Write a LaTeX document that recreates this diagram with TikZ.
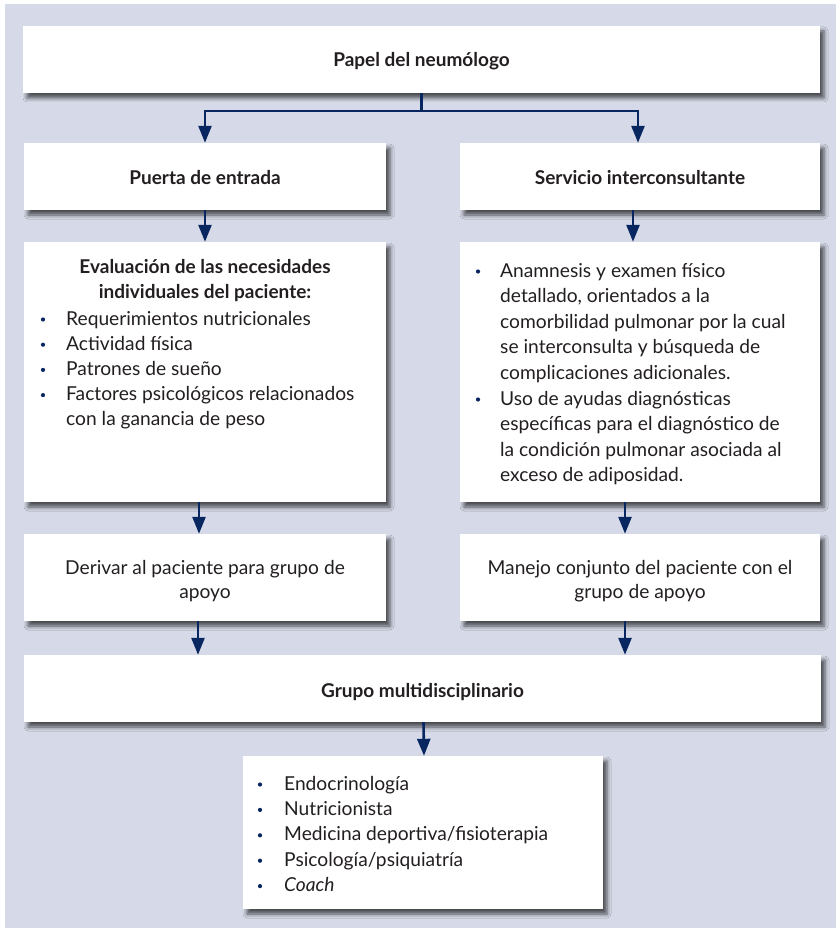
\documentclass[tikz,border=0pt]{standalone}
\usepackage{fontspec}
\setmainfont{Lato}
\usetikzlibrary{shadows.blur,arrows.meta}
\definecolor{bgpanel}{RGB}{214,218,232}
\definecolor{navy}{RGB}{8,38,96}
\definecolor{ink}{RGB}{35,31,32}
\begin{document}
\begin{tikzpicture}[x=1pt,y=-1pt,
  panel/.style={fill=white, draw=none, inner sep=0pt,
    blur shadow={shadow xshift=4pt, shadow yshift=-5pt,
      shadow blur radius=4pt, shadow opacity=65}},
  flow/.style={draw=navy, line width=2.6pt,
    -{Triangle[length=17pt,width=13pt]}},
  body/.style={font=\fontsize{19.2}{25}\selectfont, text=ink, inner sep=0pt},
  head/.style={body, font=\fontsize{19}{25}\selectfont\bfseries},
  dot/.style={fill=navy},
]
% page background with its light outer edge
\path[use as bounding box, fill=white] (0,0) rectangle (836,928);
\fill[bgpanel] (5,4) rectangle (836,928);

% boxes
\node[panel, minimum width=797pt, minimum height=67pt] (top) at (421.5,59.5) {};
\node[panel, minimum width=362pt, minimum height=67pt] (puerta) at (205,176.5) {};
\node[panel, minimum width=360pt, minimum height=67pt] (servicio) at (640,176.5) {};
\node[panel, minimum width=362pt, minimum height=260pt] (eval) at (205,372) {};
\node[panel, minimum width=360pt, minimum height=260pt] (detalle) at (640,372) {};
\node[panel, minimum width=362pt, minimum height=87pt] (derivar) at (205,577.5) {};
\node[panel, minimum width=360pt, minimum height=87pt] (manejo) at (640,577.5) {};
\node[panel, minimum width=797pt, minimum height=67pt] (grupo) at (422.5,688.5) {};
\node[panel, minimum width=360pt, minimum height=153pt] (equipo) at (423,832.5) {};

% titles
\node[head, anchor=base] (ttop) at (421.5,67) {Papel del neumólogo};
\node[head, anchor=base] (tpuerta) at (205,184) {Puerta de entrada};
\node[head, anchor=base] (tservicio) at (640,184) {Servicio interconsultante};
\node[head, anchor=base] (tgrupo) at (422.5,697) {Grupo multidisciplinario};
\node[head, anchor=base] (teval1) at (205,273) {Evaluación de las necesidades};
\node[head, anchor=base] (teval2) at (205,298) {individuales del paciente:};

% left list
\foreach \t [count=\i] in {Requerimientos nutricionales, Actividad física,
    Patrones de sueño, Factores psicológicos relacionados,
    con la ganancia de peso}
  \node[body, anchor=base west] (ev\i) at (66,{325+25.2*(\i-1)}) {\t};
\foreach \i in {1,...,4}
  \fill[dot] (43,{319.5+25.2*(\i-1)}) circle (2.1pt);

% right list
\foreach \t [count=\i] in {Anamnesis y examen físico,
    {detallado, orientados a la},
    comorbilidad pulmonar por la cual,
    se interconsulta y búsqueda de,
    complicaciones adicionales.,
    Uso de ayudas diagnósticas,
    específicas para el diagnóstico de,
    la condición pulmonar asociada al,
    exceso de adiposidad.}
  \node[body, anchor=base west] (de\i) at (500,{277+25.6*(\i-1)}) {\t};
\fill[dot] (478,271.5) circle (2.1pt);
\fill[dot] (478,{271.5+25.6*5}) circle (2.1pt);

% referral boxes
\node[body, anchor=base] (dv1) at (205,574) {Derivar al paciente para grupo de};
\node[body, anchor=base] (dv2) at (205,598) {apoyo};
\node[body, anchor=base] (mj1) at (640,574) {Manejo conjunto del paciente con el};
\node[body, anchor=base] (mj2) at (640,598) {grupo de apoyo};

% team list
\foreach \t [count=\i] in {Endocrinología, Nutricionista,
    Medicina deportiva/fisioterapia, Psicología/psiquiatría,
    \textit{Coach}}
  \node[body, anchor=base west] (eq\i) at (284,{790+25.4*(\i-1)}) {\t};
\foreach \i in {1,...,5}
  \fill[dot] (260,{784.5+25.4*(\i-1)}) circle (2.1pt);

% connectors
\coordinate (split) at (421.5,111);
\coordinate (dvout) at ([xshift=-7pt]derivar.south);
\coordinate (mjout) at ([xshift=-15pt]manejo.south);
\draw[draw=navy, line width=2.6pt] (top.south) -- (split);
\draw[flow] (split) -| (puerta.north);
\draw[flow] (split) -| ([xshift=-2pt]servicio.north);
\draw[flow] (puerta.south) -- (eval.north);
\draw[flow] ([xshift=-7pt]servicio.south) -- ([xshift=-7pt]detalle.north);
\draw[flow] ([xshift=-6pt]eval.south) -- ([xshift=-6pt]derivar.north);
\draw[flow] ([xshift=-15pt]detalle.south) -- ([xshift=-15pt]manejo.north);
\draw[flow] (dvout) -- (dvout |- grupo.north);
\draw[flow] (mjout) -- (mjout |- grupo.north);
\draw[flow] ([xshift=1pt]grupo.south) -- ([xshift=1pt]equipo.north);
\end{tikzpicture}
\end{document}
